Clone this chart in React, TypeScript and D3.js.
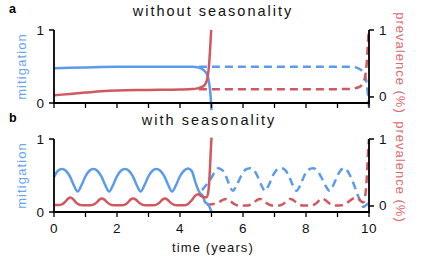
import React from "react";
import * as d3 from "d3";

// ---------- data ----------
const xTickValues = [0, 1, 2, 3, 4, 5, 6, 7, 8, 9, 10];
const xTickLabels = [0, 2, 4, 6, 8, 10];
const leftTicks = [0, 1];
const rightTicks = [0, 1];

// panel a (without seasonality): [year, value]
const aMitigationSolid: [number, number][] = [
  [0, 0.475], [0.5, 0.482], [1, 0.488], [1.5, 0.492], [2, 0.495], [3, 0.497], [4, 0.497],
  [4.4, 0.495], [4.55, 0.49], [4.7, 0.465], [4.8, 0.43], [4.88, 0.37], [4.93, 0.26],
  [4.97, 0.1], [5.0, -0.1],
];
const aPrevalenceSolid: [number, number][] = [
  [0, 0.025], [0.5, 0.045], [1, 0.065], [1.5, 0.085], [2, 0.097], [3, 0.105], [4, 0.112],
  [4.4, 0.118], [4.55, 0.128], [4.7, 0.15], [4.8, 0.19], [4.87, 0.28], [4.92, 0.46],
  [4.96, 0.75], [4.99, 1.0],
];
const aMitigationDashed: [number, number][] = [
  [4.6, 0.497], [5, 0.497], [6, 0.497], [7, 0.497], [8, 0.497], [9, 0.497], [9.4, 0.495],
  [9.55, 0.49], [9.7, 0.465], [9.8, 0.43], [9.88, 0.37], [9.93, 0.26], [9.97, 0.1], [10, -0.05],
];
const aPrevalenceDashed: [number, number][] = [
  [4.6, 0.115], [5, 0.115], [6, 0.115], [7, 0.116], [8, 0.116], [9, 0.117], [9.4, 0.12],
  [9.55, 0.13], [9.7, 0.15], [9.8, 0.2], [9.87, 0.29], [9.92, 0.46], [9.96, 0.75], [9.99, 1.0],
];

// panel b (with seasonality)
const bMitigationSolid: [number, number][] = [
  [0, 0.48], [0.125, 0.565], [0.25, 0.59], [0.375, 0.565], [0.5, 0.49], [0.625, 0.37], [0.75, 0.28],
  [0.875, 0.37], [1.0, 0.49], [1.125, 0.565], [1.25, 0.59], [1.375, 0.565], [1.5, 0.49], [1.625, 0.37],
  [1.75, 0.28], [1.875, 0.37], [2.0, 0.49], [2.125, 0.565], [2.25, 0.59], [2.375, 0.565], [2.5, 0.49],
  [2.625, 0.37], [2.75, 0.28], [2.875, 0.37], [3.0, 0.49], [3.125, 0.565], [3.25, 0.59], [3.375, 0.565],
  [3.5, 0.49], [3.625, 0.37], [3.75, 0.28], [3.875, 0.37], [4.0, 0.49], [4.125, 0.565], [4.25, 0.595],
  [4.375, 0.56], [4.48, 0.42], [4.58, 0.3], [4.63, 0.26], [4.68, 0.24], [4.74, 0.21], [4.79, 0.14],
  [4.9, 0.1], [5.0, 0.0],
];
const bPrevalenceSolid: [number, number][] = [
  [0, 0.015], [0.15, 0.015], [0.25, 0.025], [0.35, 0.06], [0.45, 0.11], [0.52, 0.125], [0.6, 0.105],
  [0.7, 0.05], [0.8, 0.02], [0.9, 0.01], [1.15, 0.01], [1.25, 0.02], [1.35, 0.05], [1.44, 0.095],
  [1.52, 0.11], [1.6, 0.095], [1.7, 0.05], [1.8, 0.02], [1.9, 0.01], [2.15, 0.01], [2.25, 0.02],
  [2.34, 0.05], [2.43, 0.095], [2.51, 0.11], [2.6, 0.095], [2.7, 0.05], [2.8, 0.02], [2.9, 0.01],
  [3.15, 0.01], [3.25, 0.02], [3.35, 0.05], [3.44, 0.095], [3.52, 0.11], [3.6, 0.095], [3.7, 0.05],
  [3.8, 0.02], [3.9, 0.01], [4.15, 0.012], [4.27, 0.035], [4.38, 0.09], [4.48, 0.15], [4.57, 0.175],
  [4.65, 0.155], [4.75, 0.13], [4.85, 0.13], [4.91, 0.25], [4.95, 0.55], [4.98, 0.85], [5.0, 1.02],
];
const bMitigationDashed: [number, number][] = [
  [4.7, 0.3], [4.85, 0.38], [5.0, 0.47], [5.1, 0.55], [5.22, 0.6], [5.35, 0.57], [5.45, 0.5],
  [5.55, 0.39], [5.68, 0.29], [5.8, 0.37], [5.95, 0.5], [6.08, 0.58], [6.22, 0.6], [6.35, 0.57],
  [6.45, 0.5], [6.58, 0.37], [6.7, 0.29], [6.82, 0.37], [6.95, 0.5], [7.08, 0.58], [7.22, 0.6],
  [7.35, 0.57], [7.45, 0.5], [7.58, 0.37], [7.7, 0.29], [7.82, 0.37], [7.95, 0.5], [8.08, 0.58],
  [8.22, 0.6], [8.35, 0.57], [8.48, 0.48], [8.62, 0.36], [8.75, 0.29], [8.88, 0.38], [9.0, 0.5],
  [9.1, 0.57], [9.22, 0.6], [9.4, 0.5], [9.56, 0.33], [9.71, 0.16], [9.82, 0.07], [9.92, 0.1],
  [10, 0.12],
];
const bPrevalenceDashed: [number, number][] = [
  [4.85, 0.02], [5.0, 0.025], [5.15, 0.04], [5.28, 0.07], [5.38, 0.095], [5.47, 0.105], [5.56, 0.09],
  [5.66, 0.05], [5.76, 0.02], [5.88, 0.006], [6.15, 0.006], [6.25, 0.02], [6.35, 0.05], [6.45, 0.09],
  [6.54, 0.105], [6.63, 0.09], [6.73, 0.05], [6.83, 0.02], [6.93, 0.006], [7.15, 0.006], [7.24, 0.02],
  [7.33, 0.05], [7.42, 0.09], [7.5, 0.105], [7.59, 0.09], [7.69, 0.05], [7.79, 0.02], [7.9, 0.006],
  [8.17, 0.006], [8.26, 0.02], [8.35, 0.05], [8.44, 0.095], [8.52, 0.11], [8.61, 0.09], [8.71, 0.05],
  [8.81, 0.02], [8.92, 0.008], [9.15, 0.012], [9.27, 0.035], [9.38, 0.075], [9.5, 0.115], [9.6, 0.13],
  [9.68, 0.105], [9.76, 0.065], [9.82, 0.055], [9.88, 0.15], [9.93, 0.42], [9.97, 0.8], [10.0, 1.0],
];

const panelTitles = ["without seasonality", "with seasonality"];
const panelLetters = ["a", "b"];

// ---------- style ----------
const BLUE = "#5b9be9";
const RED = "#d0585e";
const BLUE_TXT = "#6aa5ee";
const RED_TXT = "#dd6b6e";
const FONT = "'Liberation Sans', Arial, sans-serif";

const W = 427;
const H = 259;
const X0 = 54;
const X1 = 369;
const PLOT_H = 73;

type Series = [number, number][];

function Panel(props: {
  top: number;
  title: string;
  letter: string;
  mitS: Series;
  prevS: Series;
  mitD: Series;
  prevD: Series;
  showXLabels: boolean;
  titleX: number;
}) {
  const { top, title, letter, mitS, prevS, mitD, prevD, showXLabels, titleX } = props;
  const bottom = top + PLOT_H;
  const x = d3.scaleLinear().domain([0, 10]).range([X0, X1]);
  const yL = d3.scaleLinear().domain([0, 1]).range([bottom, top]);
  const yR = d3.scaleLinear().domain([-0.09, 1]).range([bottom, top]);
  const lineL = d3
    .line<[number, number]>()
    .x((d) => x(d[0]))
    .y((d) => yL(d[1]))
    .curve(d3.curveMonotoneX);
  const lineR = d3
    .line<[number, number]>()
    .x((d) => x(d[0]))
    .y((d) => yR(d[1]))
    .curve(d3.curveMonotoneX);
  const midY = (top + bottom) / 2;
  return (
    <g>
      <text x={9} y={top - 17} fontFamily={FONT} fontWeight="bold" fontSize={12.5} fill="#000">
        {letter}
      </text>
      <text
        x={titleX}
        y={top - 14}
        fontFamily={FONT}
        fontSize={14.5}
        letterSpacing={2}
        textAnchor="middle"
        fill="#111"
      >
        {title}
      </text>
      {/* lines */}
      <path d={lineL(mitD) || ""} fill="none" stroke={BLUE} strokeWidth={2.5} strokeDasharray="8 5" />
      <path d={lineR(prevD) || ""} fill="none" stroke={RED} strokeWidth={2.5} strokeDasharray="8 5" />
      <path d={lineL(mitS) || ""} fill="none" stroke={BLUE} strokeWidth={2.5} />
      <path d={lineR(prevS) || ""} fill="none" stroke={RED} strokeWidth={2.5} />
      {/* left axis */}
      <line x1={X0} x2={X0} y1={top} y2={bottom} stroke="#000" strokeWidth={1.8} />
      {leftTicks.map((t) => (
        <g key={"l" + t}>
          <line x1={X0 - 5} x2={X0} y1={yL(t)} y2={yL(t)} stroke="#000" strokeWidth={1.5} />
          <text
            x={X0 - 10}
            y={yL(t) + 4.5}
            textAnchor="end"
            fontFamily={FONT}
            fontSize={13.5}
            fill="#111"
          >
            {t}
          </text>
        </g>
      ))}
      {/* right axis */}
      <line x1={X1} x2={X1} y1={top} y2={bottom} stroke="#000" strokeWidth={1.8} />
      {rightTicks.map((t) => (
        <g key={"r" + t}>
          <line x1={X1} x2={X1 + 5} y1={yR(t)} y2={yR(t)} stroke="#000" strokeWidth={1.5} />
          <text x={X1 + 10} y={yR(t) + 4.5} fontFamily={FONT} fontSize={13.5} fill="#111">
            {t}
          </text>
        </g>
      ))}
      {/* x axis */}
      <line x1={X0 - 1} x2={X1 + 1} y1={bottom} y2={bottom} stroke="#000" strokeWidth={1.8} />
      {xTickValues.map((t) => (
        <line key={"x" + t} x1={x(t)} x2={x(t)} y1={bottom} y2={bottom + 5} stroke="#000" strokeWidth={1.3} />
      ))}
      {showXLabels &&
        xTickLabels.map((t) => (
          <text
            key={"xl" + t}
            x={x(t)}
            y={bottom + 21}
            textAnchor="middle"
            fontFamily={FONT}
            fontSize={13.5}
            letterSpacing={0.5}
            fill="#111"
          >
            {t}
          </text>
        ))}
      {/* axis labels */}
      <text
        transform={`translate(26,${midY}) rotate(-90)`}
        textAnchor="middle"
        fontFamily={FONT}
        fontSize={13}
        letterSpacing={1.1}
        fill={BLUE_TXT}
      >
        mitigation
      </text>
      <text
        transform={`translate(396,${midY - 3.5}) rotate(90)`}
        textAnchor="middle"
        fontFamily={FONT}
        fontSize={13}
        letterSpacing={1}
        fill={RED_TXT}
      >
        prevalence (%)
      </text>
    </g>
  );
}

export default function App() {
  return (
    <svg
      width={W}
      height={H}
      viewBox={`0 0 ${W} ${H}`}
      style={{ display: "block", position: "absolute", left: 0, top: 0, background: "#fff" }}
    >
      <Panel
        top={30}
        title={panelTitles[0]}
        letter={panelLetters[0]}
        mitS={aMitigationSolid}
        prevS={aPrevalenceSolid}
        mitD={aMitigationDashed}
        prevD={aPrevalenceDashed}
        showXLabels={false}
        titleX={213}
      />
      <Panel
        top={139}
        title={panelTitles[1]}
        letter={panelLetters[1]}
        mitS={bMitigationSolid}
        prevS={bPrevalenceSolid}
        mitD={bMitigationDashed}
        prevD={bPrevalenceDashed}
        showXLabels={true}
        titleX={209}
      />
      <text
        x={213}
        y={252}
        textAnchor="middle"
        fontFamily={FONT}
        fontSize={13}
        letterSpacing={1.1}
        fill="#111"
      >
        time (years)
      </text>
    </svg>
  );
}
